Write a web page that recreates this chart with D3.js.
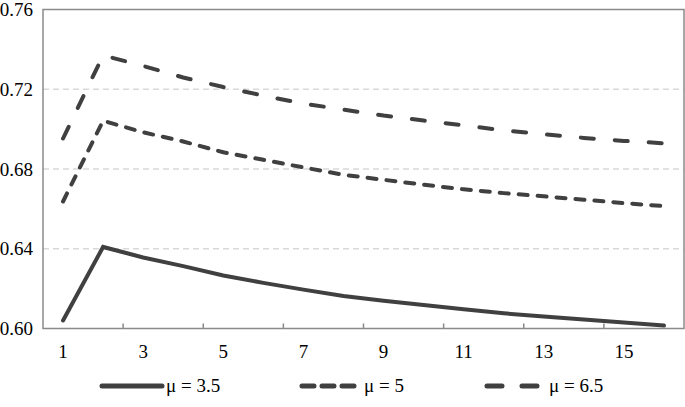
<!DOCTYPE html>
<html>
<head>
<meta charset="utf-8">
<script src="https://cdn.jsdelivr.net/npm/d3@7"></script>
<style>
  body { margin: 0; background: #fff; }
  svg { display: block; font-family: "Liberation Serif", "Times New Roman", serif; }
</style>
</head>
<body>
<svg id="chart" width="685" height="407"></svg>
<script>
// values
var periods = [1, 2, 3, 4, 5, 6, 7, 8, 9, 10, 11, 12, 13, 14, 15, 16];
var tickLabels = [1, 3, 5, 7, 9, 11, 13, 15];
var yTicks = [0.60, 0.64, 0.68, 0.72, 0.76];
var mu35 = [0.6040, 0.6409, 0.6356, 0.6313, 0.6266, 0.6229, 0.6195, 0.6163, 0.6139, 0.6118, 0.6096, 0.6076, 0.6060, 0.6045, 0.6030, 0.6015];
var mu5 = [0.6637, 0.7042, 0.6984, 0.6938, 0.6884, 0.6846, 0.6808, 0.6771, 0.6746, 0.6721, 0.6698, 0.6679, 0.6663, 0.6646, 0.6629, 0.6614];
var mu65 = [0.6953, 0.7370, 0.7317, 0.7259, 0.7211, 0.7168, 0.7128, 0.7098, 0.7068, 0.7043, 0.7019, 0.6994, 0.6974, 0.6956, 0.6941, 0.6929];
var seriesNames = ['\u03bc = 3.5', '\u03bc = 5', '\u03bc = 6.5'];

var series = [
  { name: seriesNames[0], values: mu35, dash: null, legendDash: null },
  { name: seriesNames[1], values: mu5, dash: '9,10', legendDash: '12,8' },
  { name: seriesNames[2], values: mu65, dash: '13,21', legendDash: '15,20' }
];

var svg = d3.select('#chart');
var plotLeft = 43, plotRight = 684, plotTop = 9.5, plotBottom = 328.5;
var axisColor = '#8a8a8a';
var lineColor = '#404040';

var x = d3.scaleBand().domain(periods).range([plotLeft, plotRight]);
var y = d3.scaleLinear().domain([0.60, 0.76]).range([plotBottom, plotTop]);
var cx = function(d) { return x(d) + x.bandwidth() / 2; };

// gridlines
svg.append('g').selectAll('line')
  .data(yTicks.filter(function(t) { return t > 0.60 && t < 0.76; }))
  .enter().append('line')
  .attr('x1', plotLeft).attr('x2', plotRight)
  .attr('y1', function(d) { return y(d); })
  .attr('y2', function(d) { return y(d); })
  .attr('stroke', '#d9d9d9')
  .attr('stroke-width', 1.5)
  .attr('stroke-dasharray', '6,4');

// frame
svg.append('rect')
  .attr('x', plotLeft).attr('y', plotTop)
  .attr('width', plotRight - plotLeft).attr('height', plotBottom - plotTop)
  .attr('fill', 'none')
  .attr('stroke', axisColor)
  .attr('stroke-width', 1.5);

// x tick marks between categories, pointing inward
svg.append('g').selectAll('line')
  .data(tickLabels.slice(1))
  .enter().append('line')
  .attr('x1', function(d) { return x(d); })
  .attr('x2', function(d) { return x(d); })
  .attr('y1', plotBottom).attr('y2', plotBottom - 5)
  .attr('stroke', axisColor)
  .attr('stroke-width', 1.5);

// x labels
svg.append('g').selectAll('text')
  .data(tickLabels)
  .enter().append('text')
  .attr('x', cx)
  .attr('y', 358)
  .attr('text-anchor', 'middle')
  .attr('font-size', 19)
  .attr('fill', '#000')
  .text(function(d) { return d; });

// y axis labels
var yAxis = d3.axisLeft(y).tickValues(yTicks).tickSize(0).tickPadding(10).tickFormat(d3.format('.2f'));
var yg = svg.append('g').attr('transform', 'translate(' + plotLeft + ',0)').call(yAxis);
yg.select('.domain').remove();
yg.selectAll('text')
  .attr('font-size', 19)
  .attr('font-family', '"Liberation Serif", "Times New Roman", serif')
  .attr('fill', '#000');

// lines
var line = d3.line()
  .x(function(d, i) { return cx(periods[i]); })
  .y(function(d) { return y(d); });

svg.append('g').selectAll('path')
  .data(series)
  .enter().append('path')
  .attr('d', function(s) { return line(s.values); })
  .attr('fill', 'none')
  .attr('stroke', lineColor)
  .attr('stroke-width', 4)
  .attr('stroke-linecap', 'round')
  .attr('stroke-linejoin', 'miter')
  .attr('stroke-dasharray', function(s) { return s.dash; });

// legend
var legendY = 386;
var legendX = [102, 302, 487];
var lg = svg.append('g').selectAll('g')
  .data(series)
  .enter().append('g')
  .attr('transform', function(s, i) { return 'translate(' + legendX[i] + ',' + legendY + ')'; });

lg.append('line')
  .attr('x1', 0).attr('x2', function(s, i) { return i === 0 ? 60 : 53; })
  .attr('y1', 0).attr('y2', 0)
  .attr('stroke', lineColor)
  .attr('stroke-width', 5)
  .attr('stroke-linecap', 'round')
  .attr('stroke-dasharray', function(s) { return s.legendDash; });

lg.append('text')
  .attr('x', function(s, i) { return i === 0 ? 64 : 62; })
  .attr('y', 6)
  .attr('font-size', 19)
  .attr('fill', '#000')
  .text(function(s) { return s.name; });
</script>
</body>
</html>
